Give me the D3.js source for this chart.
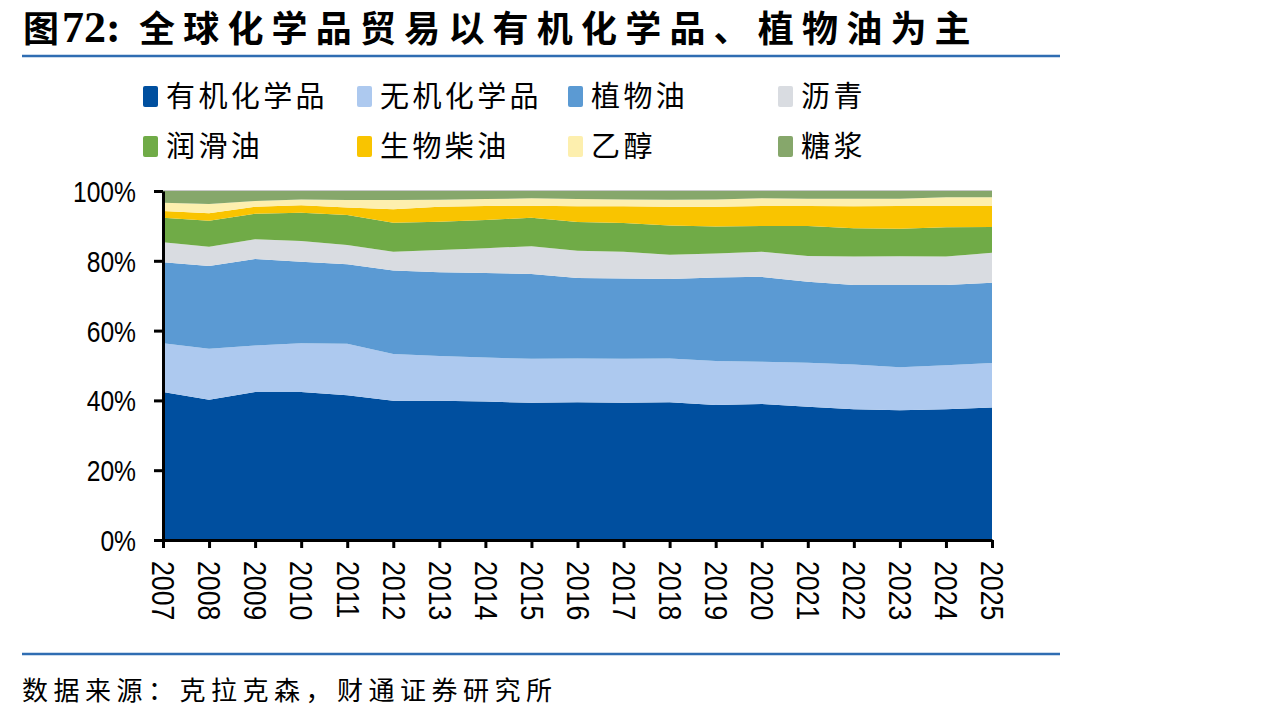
<!DOCTYPE html>
<html>
<head>
<meta charset="utf-8">
<script src="https://cdn.jsdelivr.net/npm/d3@7"></script>
<style>
  body { margin: 0; background: #fff; }
  svg { display: block; font-family: "Noto Sans CJK SC", "Noto Sans", sans-serif; }
</style>
</head>
<body>
<div id="chart"></div>
<script>
// Share of global chemical trade by product (%)
const years = ["2007","2008","2009","2010","2011","2012","2013","2014","2015","2016",
               "2017","2018","2019","2020","2021","2022","2023","2024","2025"];
const organic   = [42.4,40.2,42.4,42.4,41.5,39.9,39.9,39.7,39.3,39.5,39.3,39.5,38.7,39.0,38.2,37.5,37.2,37.5,38.0];
const inorganic = [14.0,14.6,13.3,14.0,14.7,13.4,12.8,12.6,12.6,12.5,12.6,12.5,12.6,12.1,12.6,12.8,12.3,12.6,12.7];
const vegOil    = [23.2,23.7,24.8,23.3,22.8,23.9,24.0,24.2,24.3,23.1,23.0,22.8,23.9,24.3,23.2,22.8,23.6,23.0,23.0];
const asphalt   = [5.7,5.5,5.7,6.0,5.5,5.4,6.4,7.1,8.0,7.8,7.7,6.9,6.9,7.2,7.4,8.1,8.2,8.1,8.6];
const lubOil    = [7.0,7.5,7.3,8.1,8.6,8.3,8.1,8.1,8.1,8.2,8.2,8.4,7.7,7.4,8.6,8.1,7.9,8.4,7.4];
const biodiesel = [2.0,2.1,2.0,2.1,2.2,3.9,4.3,4.0,3.5,4.5,4.8,5.4,5.7,5.7,5.7,6.3,6.5,6.1,6.0];
const ethanol   = [2.3,2.7,1.6,1.7,2.1,2.6,2.0,2.0,2.1,2.1,2.0,2.0,2.1,2.2,2.1,2.2,2.1,2.5,2.5];
const molasses  = [3.4,3.7,2.9,2.4,2.6,2.6,2.5,2.3,2.1,2.3,2.4,2.5,2.4,2.1,2.2,2.2,2.2,1.8,1.8];

const seriesNames = ["有机化学品","无机化学品","植物油","沥青","润滑油","生物柴油","乙醇","糖浆"];
const seriesValues = [organic, inorganic, vegOil, asphalt, lubOil, biodiesel, ethanol, molasses];
const colors = ["#004f9f","#adc9ef","#5b9ad3","#d9dce1","#70ab47","#f9c400","#fdefae","#86a76b"];
const yTicks = [0, 0.2, 0.4, 0.6, 0.8, 1];

const W = 1274, H = 718;
const svg = d3.select("#chart").append("svg").attr("width", W).attr("height", H);

// title
const title = svg.append("text").attr("x", 23).attr("y", 42)
  .style("font-size", "36px").style("font-weight", "bold").attr("fill", "#000");
title.append("tspan").text("图");
title.append("tspan").attr("dx", 3).style("font-family", "'Liberation Serif', serif").style("font-size", "44px").text("72:");
title.append("tspan").attr("x", 139).style("letter-spacing", "8.2px").text("全球化学品贸易以有机化学品、植物油为主");

svg.append("line").attr("x1", 22).attr("x2", 1060).attr("y1", 56).attr("y2", 56)
  .attr("stroke", "#2f6db2").attr("stroke-width", 2.5);

// legend
const legendPos = [[143,96],[357,96],[568,96],[778,96],[143,146],[357,146],[568,146],[778,146]];
seriesNames.forEach((name, i) => {
  const [lx, ly] = legendPos[i];
  svg.append("rect").attr("x", lx).attr("y", ly - 10).attr("width", 15).attr("height", 21)
    .attr("rx", 2).attr("fill", colors[i]);
  svg.append("text").attr("x", lx + 23).attr("y", ly + 11)
    .style("font-size", "29px").style("letter-spacing", "3.4px").attr("fill", "#000").text(name);
});

// chart
const table = years.map((y, j) => {
  const row = { year: y };
  seriesNames.forEach((n, i) => { row[n] = seriesValues[i][j]; });
  return row;
});

const x = d3.scalePoint().domain(years).range([163, 992]);
const yScale = d3.scaleLinear().domain([0, 1]).range([540, 191]);

const stack = d3.stack().keys(seriesNames).offset(d3.stackOffsetExpand);
const stacked = stack(table);

const area = d3.area()
  .x(d => x(d.data.year))
  .y0(d => yScale(d[0]))
  .y1(d => yScale(d[1]));

svg.append("g").selectAll("path").data(stacked).join("path")
  .attr("d", area).attr("fill", (d, i) => colors[i]);

svg.append("line").attr("x1", 163).attr("x2", 992).attr("y1", 190.5).attr("y2", 190.5)
  .attr("stroke", "#c8c8c8").attr("stroke-width", 1);

// y axis
const yAxis = svg.append("g").attr("transform", "translate(163,0)")
  .call(d3.axisLeft(yScale).tickValues(yTicks).tickFormat(d3.format(".0%")).tickSize(9).tickSizeOuter(0));
yAxis.select(".domain").attr("stroke", "#000").attr("stroke-width", 3);
yAxis.selectAll(".tick line").attr("stroke", "#000").attr("stroke-width", 3);
yAxis.selectAll(".tick text").attr("x", 0).attr("dy", "0.36em")
  .attr("transform", "translate(-27,0) scale(0.85,1)")
  .style("font-family", "'Liberation Sans', Arial, sans-serif").style("font-size", "29px").attr("fill", "#000");

// x axis
const xAxis = svg.append("g").attr("transform", "translate(0,540)")
  .call(d3.axisBottom(x).tickSize(8).tickSizeOuter(0));
xAxis.select(".domain").attr("stroke", "#000").attr("stroke-width", 3);
xAxis.selectAll(".tick line").attr("stroke", "#000").attr("stroke-width", 3);
xAxis.selectAll(".tick text")
  .attr("x", 0).attr("y", 0).attr("dy", "0.36em")
  .attr("transform", "translate(0,21) rotate(90) scale(0.86,1)")
  .style("text-anchor", "start")
  .style("font-family", "'Liberation Sans', Arial, sans-serif").style("font-size", "31px").attr("fill", "#000");

// footer
svg.append("line").attr("x1", 22).attr("x2", 1060).attr("y1", 654).attr("y2", 654)
  .attr("stroke", "#2f6db2").attr("stroke-width", 2.5);
svg.append("text").attr("x", 22).attr("y", 700)
  .style("font-size", "26px").style("letter-spacing", "5.5px").attr("fill", "#000")
  .text("数据来源：克拉克森，财通证券研究所");
</script>
</body>
</html>
